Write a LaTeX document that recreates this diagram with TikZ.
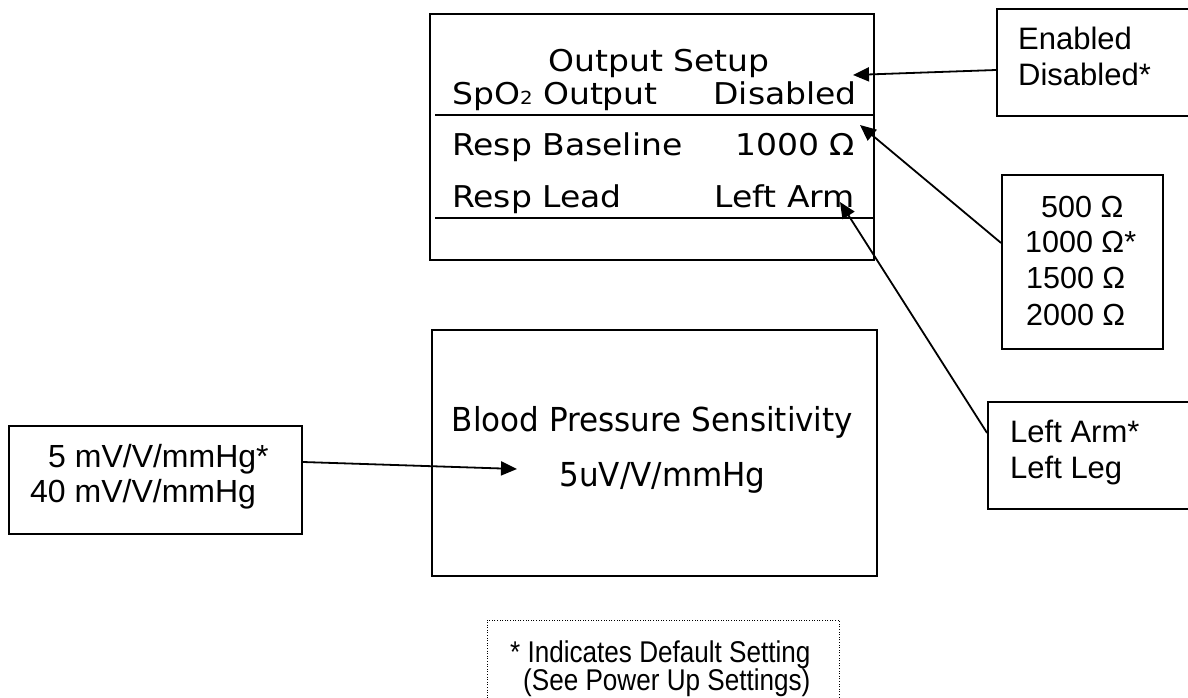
\documentclass[tikz,border=0pt]{standalone}
\usepackage{fontspec}
\setmainfont{Liberation Sans}
\newfontfamily\lcdfont{DejaVu Sans}[FakeStretch=1.1]
\newfontfamily\lcdnarrow{DejaVu Sans}[FakeStretch=0.94]
\newfontfamily\notefont{Liberation Sans}[FakeStretch=0.87]
\usetikzlibrary{arrows.meta}
\begin{document}
\begin{tikzpicture}[x=1pt,y=-1pt,
  frame/.style={draw, line width=1.8pt, rectangle, inner sep=0pt},
  lcd/.style={inner sep=0pt, font={\lcdfont\fontsize{30pt}{36pt}\selectfont}},
  lcdbp/.style={inner sep=0pt, font={\lcdnarrow\fontsize{33pt}{40pt}\selectfont}},
  opt/.style={inner sep=0pt, anchor=base west, font={\fontsize{31pt}{36pt}\selectfont}},
  note/.style={inner sep=0pt, anchor=base west, font={\notefont\fontsize{30pt}{30pt}\selectfont}},
  rule/.style={line width=2.6pt},
  ptr/.style={line width=1.8pt, -{Triangle[length=16pt,width=14pt]}}]
\useasboundingbox (0,0) rectangle (1188,698);
\fill[white] (0,0) rectangle (1188,698);

% ---- Output Setup screen
\node[frame, minimum width=444pt, minimum height=246pt] (scr) at (652,137) {};
\draw[rule] (435,115) -- (873,115);
\draw[rule] (435,218) -- (873,218);
\node[lcd, anchor=base] (ttl) at (659,72) {Output Setup};
\node[lcd, anchor=base west] (spo) at (452,105) {SpO{\fontsize{18pt}{18pt}\selectfont 2} Output};
\node[lcd, anchor=base east] (dis) at (857,105) {Disabled};
\node[lcd, anchor=base west] (rb) at (452,155) {Resp Baseline};
\node[lcd, anchor=base east] (ohm) at (855,155) {1000 Ω};
\node[lcd, anchor=base west] (rl) at (452,207) {Resp Lead};
\node[lcd, anchor=base east] (arm) at (855,207) {Left Arm};

% ---- Blood pressure screen
\node[frame, minimum width=445pt, minimum height=246pt] (bp) at (654.5,453) {};
\node[lcdbp, anchor=base] (bpt) at (652.5,431) {Blood Pressure Sensitivity};
\node[lcdbp, anchor=base] (bpv) at (662.5,486) {5uV/V/mmHg};

% ---- option boxes
\node[frame, minimum width=193pt, minimum height=107pt] (en) at (1093.5,62.5) {};
\node[opt] (en1) at (1018,50) {Enabled};
\node[opt] (en2) at (1018,86) {Disabled*};

\node[frame, minimum width=161pt, minimum height=174pt] (res) at (1082.5,262) {};
\node[opt, font={\fontsize{30.5pt}{36pt}\selectfont}] (r1) at (1041,217) {500 Ω};
\node[opt, font={\fontsize{30.5pt}{36pt}\selectfont}] (r2) at (1025,252) {1000 Ω*};
\node[opt, font={\fontsize{30.5pt}{36pt}\selectfont}] (r3) at (1026,288) {1500 Ω};
\node[opt, font={\fontsize{30.5pt}{36pt}\selectfont}] (r4) at (1026,325) {2000 Ω};

\node[frame, minimum width=202pt, minimum height=107pt] (la) at (1089,455.5) {};
\node[opt] (la1) at (1010,442) {Left Arm*};
\node[opt] (la2) at (1010,478) {Left Leg};

\node[frame, minimum width=293pt, minimum height=108pt] (mv) at (155.5,480) {};
\node[opt, font={\fontsize{32pt}{36pt}\selectfont}] (mv1) at (48,467) {5 mV/V/mmHg*};
\node[opt, font={\fontsize{32pt}{36pt}\selectfont}] (mv2) at (30,502) {40 mV/V/mmHg};

% ---- footnote
\node[draw, line width=1pt, dash pattern=on 1pt off 1.6pt, rectangle, inner sep=0pt,
      minimum width=352pt, minimum height=100pt] (fn) at (663,670) {};
\node[note] (fn1) at (510,662) {* Indicates Default Setting};
\node[note] (fn2) at (523,690) {(See Power Up Settings)};

% ---- pointers
\coordinate (tEn) at (853,75);
\coordinate (tRes) at (860,125);
\coordinate (tLa) at (840,202);
\coordinate (tMv) at (517,469);
\draw[ptr] ([yshift=-7.5pt]en.west) -- (tEn);
\draw[ptr] ([yshift=19pt]res.west) -- (tRes);
\draw[ptr] ([yshift=22.5pt]la.west) -- (tLa);
\draw[ptr] ([yshift=18pt]mv.east) -- (tMv);
\end{tikzpicture}
\end{document}
